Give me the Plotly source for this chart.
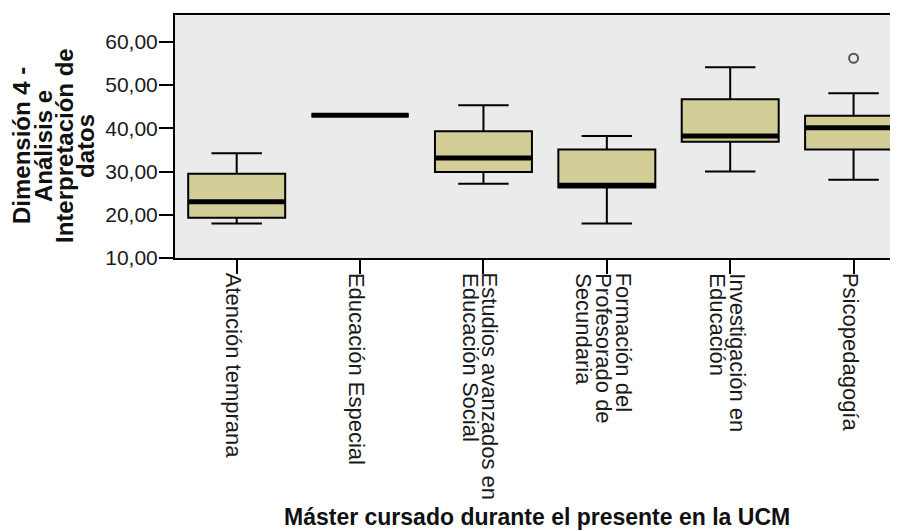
import plotly.graph_objects as go

categories = [
    "Atención temprana",
    "Educación Especial",
    "Estudios avanzados en<br>Educación Social",
    "Formación del<br>Profesorado de<br>Secundaria",
    "Investigación en<br>Educación",
    "Psicopedagogía",
]
lower_whisker = [18.0, 43.0, 27.2, 18.0, 30.0, 28.1]
q1_values = [19.3, 43.0, 29.9, 26.3, 36.9, 35.1]
median_values = [23.0, 43.0, 33.1, 26.8, 38.2, 40.1]
q3_values = [29.5, 43.0, 39.3, 35.1, 46.7, 42.9]
upper_whisker = [34.2, 43.0, 45.3, 38.2, 54.1, 48.1]
outlier_cats = ["Psicopedagogía"]
outlier_values = [56.2]
y_ticks = [10, 20, 30, 40, 50, 60]

FONT = "Liberation Sans, Arial, sans-serif"
FILL = "#D3CE98"
BG = "#EBEBEB"
TXT = "#1a1a1a"

fig = go.Figure()
fig.add_trace(go.Box(
    x=categories, q1=q1_values, median=median_values, q3=q3_values,
    lowerfence=lower_whisker, upperfence=upper_whisker,
    width=0.786, whiskerwidth=0.52, boxpoints=False,
    fillcolor=FILL, line=dict(color="black", width=2),
    showlegend=False, hoverinfo="skip",
))
# thick median lines
fig.add_trace(go.Scatter(
    x=categories, y=median_values, mode="markers",
    marker=dict(symbol="line-ew", size=69.5, line=dict(color="black", width=5)),
    showlegend=False, hoverinfo="skip",
))
fig.add_trace(go.Scatter(
    x=outlier_cats, y=outlier_values, mode="markers",
    marker=dict(symbol="circle-open", size=9, color="#555555", line=dict(color="#555555", width=2)),
    showlegend=False, hoverinfo="skip",
))

# page body has an 8px margin: figure is shifted by 8px
fig.update_layout(
    width=890, height=523,
    margin=dict(l=167, r=0, t=7, b=273),
    paper_bgcolor="white", plot_bgcolor=BG,
    separators=",.",
    font=dict(family=FONT, size=21, color=TXT),
)
fig.update_xaxes(
    type="category", range=[-0.5, 5.36],
    showline=True, linecolor="black", linewidth=2, mirror=True,
    ticks="outside", ticklen=14, tickwidth=1.5, tickcolor="black",
    showticklabels=False, showgrid=False,
)
fig.update_yaxes(
    range=[10, 66.2], tickvals=y_ticks, tickformat=".2f",
    showline=True, linecolor="black", linewidth=2, mirror=False,
    ticks="outside", ticklen=14, tickwidth=1.5, tickcolor="black",
    showgrid=False, zeroline=False, ticklabelstandoff=-3,
    tickfont=dict(family=FONT, size=21, color=TXT),
)

# category labels, rotated, with tight line spacing
for cat in categories:
    lines = cat.split("<br>")
    n = len(lines)
    for j, line in enumerate(lines):
        fig.add_annotation(
            text=line, textangle=90,
            xref="x", yref="paper", x=cat, y=0,
            xanchor="center", yanchor="top",
            xshift=((n - 1) / 2 - j) * 20 - 3, yshift=-14,
            showarrow=False, borderpad=0,
            font=dict(family=FONT, size=22, color=TXT),
        )

# x-axis title
fig.add_annotation(
    text="<b>Máster cursado durante el presente en la UCM</b>",
    xref="paper", yref="paper", x=0.5, y=-(517 - 258) / 243,
    xanchor="center", yanchor="middle", showarrow=False,
    font=dict(family=FONT, size=23, color="#111111"),
)
# y-axis title (tight multi-line)
ytitle_lines = ["Dimensión 4 -", "Análisis e", "Interpretación de", "datos"]
ytitle_px = [21, 43, 64, 85]
for line, px in zip(ytitle_lines, ytitle_px):
    fig.add_annotation(
        text="<b>" + line + "</b>", textangle=-90,
        xref="paper", yref="paper", x=(px - 175) / 723, y=(258 - 146) / 243,
        xanchor="center", yanchor="middle", showarrow=False,
        font=dict(family=FONT, size=24, color="#111111"),
    )

fig.write_html("out.html")
